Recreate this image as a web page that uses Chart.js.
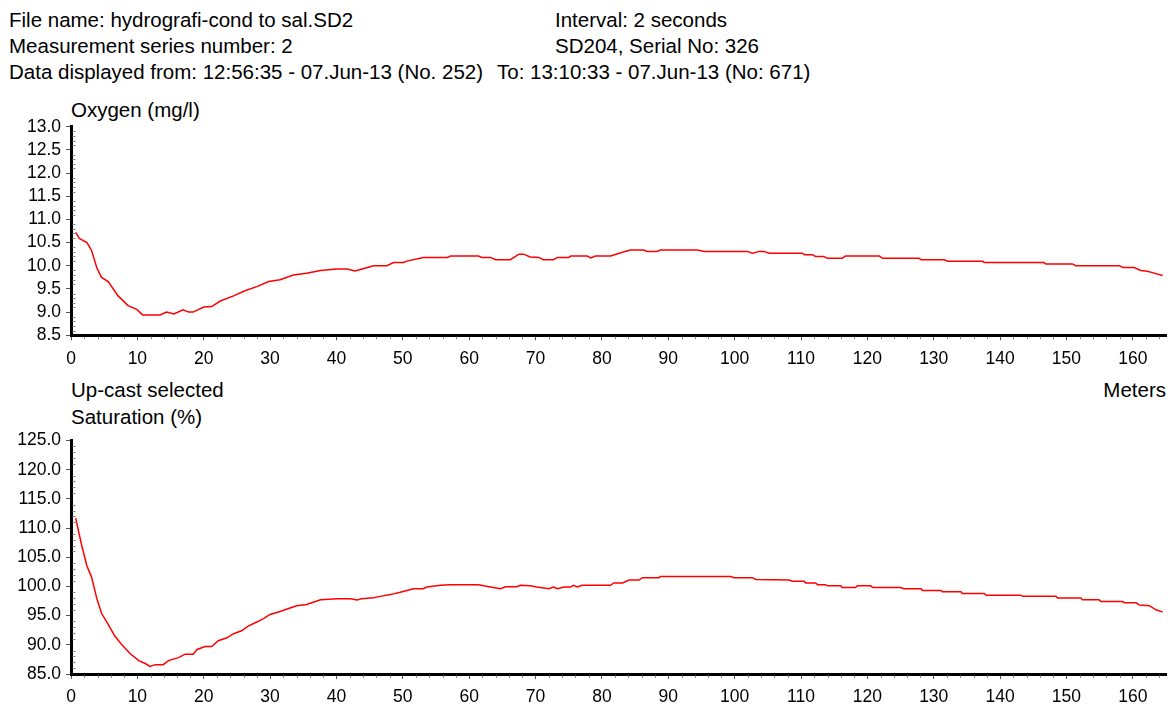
<!DOCTYPE html>
<html>
<head>
<meta charset="utf-8">
<script src="https://cdn.jsdelivr.net/npm/chart.js@4.4.0/dist/chart.umd.min.js"></script>
<style>
  html, body { margin: 0; padding: 0; background: #fff; }
  body { width: 1170px; height: 704px; position: relative; overflow: hidden;
         font-family: "Liberation Sans", Arial, sans-serif; color: #000; }
  .t { position: absolute; font-size: 20.5px; line-height: 26px; white-space: nowrap; }
  canvas { position: absolute; left: 0; }
</style>
</head>
<body>
<div class="t" style="left:9px; top:7px">File name: hydrografi-cond to sal.SD2</div>
<div class="t" style="left:9px; top:33px">Measurement series number: 2</div>
<div class="t" style="left:9px; top:59px">Data displayed from: 12:56:35 - 07.Jun-13 (No. 252)</div>
<div class="t" style="left:555px; top:7px">Interval: 2 seconds</div>
<div class="t" style="left:555px; top:33px">SD204, Serial No: 326</div>
<div class="t" style="left:497px; top:59px">To: 13:10:33 - 07.Jun-13 (No: 671)</div>

<div class="t" style="left:71px; top:97px">Oxygen (mg/l)</div>
<div class="t" style="left:71px; top:377px">Up-cast selected</div>
<div class="t" style="right:4px; top:377px">Meters</div>
<div class="t" style="left:71px; top:404px">Saturation (%)</div>

<canvas id="oxy" width="1170" height="270" style="top:100px"></canvas>
<canvas id="sat" width="1170" height="279" style="top:425px"></canvas>

<script>
// depth (m) / oxygen (mg/l)
const oxyDepth = [0.7, 1.25, 2.4, 3.1, 3.9, 4.6, 5.6, 7.1, 8.6, 9.9, 10.8, 13.4, 14.4, 15.5, 16.9, 17.7, 18.4,
  20.0, 21.2, 22.5, 24.5, 26.2, 28.0, 29.8, 31.5, 33.5, 35.5, 37.6, 40.1, 41.6, 42.8, 43.6, 45.6, 47.6,
  48.6, 50.1, 50.6, 53.1, 56.7, 57.2, 61.4, 61.9, 63.2, 64.0, 66.2, 67.5, 68.2, 69.2, 70.5, 71.2, 72.7,
  73.3, 75.0, 75.3, 77.8, 78.3, 79.0, 81.3, 83.1, 84.3, 86.3, 86.8, 88.3, 88.8, 94.4, 95.4, 101.9, 102.7,
  103.7, 104.4, 105.2, 110.2, 110.5, 111.7, 112.2, 113.4, 114.0, 116.2, 116.7, 121.8, 122.3, 127.8, 128.1,
  131.6, 132.1, 137.4, 137.6, 146.6, 146.9, 150.9, 151.4, 158.0, 158.5, 160.2, 161.2, 162.2, 163.5, 164.5];
const oxyValues = [10.72, 10.59, 10.50, 10.33, 9.95, 9.75, 9.66, 9.35, 9.14, 9.06, 8.94, 8.94, 9.00, 8.96, 9.05, 9.00, 9.00,
  9.11, 9.12, 9.24, 9.35, 9.46, 9.55, 9.66, 9.70, 9.80, 9.84, 9.90, 9.93, 9.93, 9.89, 9.92, 10.00, 10.00,
  10.07, 10.07, 10.10, 10.18, 10.18, 10.21, 10.21, 10.18, 10.18, 10.13, 10.13, 10.25, 10.25, 10.19, 10.18, 10.13, 10.13,
  10.18, 10.18, 10.21, 10.21, 10.17, 10.21, 10.21, 10.29, 10.34, 10.34, 10.31, 10.31, 10.34, 10.34, 10.31, 10.31, 10.27,
  10.31, 10.31, 10.27, 10.27, 10.24, 10.24, 10.20, 10.20, 10.16, 10.16, 10.21, 10.21, 10.16, 10.16, 10.13,
  10.13, 10.10, 10.10, 10.07, 10.07, 10.04, 10.04, 10.00, 10.00, 9.96, 9.96, 9.90, 9.88, 9.83, 9.79];

// depth (m) / saturation (%)
const satDepth = [0.7, 1.6, 2.4, 3.1, 3.9, 4.6, 5.6, 6.6, 7.6, 8.9, 10.2, 11.2, 11.9, 12.7, 13.9, 14.7, 16.2, 17.2,
  18.4, 19.0, 20.2, 21.2, 22.2, 23.5, 24.5, 25.7, 26.7, 28.0, 29.0, 30.0, 31.5, 33.0, 34.0, 35.5, 37.6, 40.1,
  42.1, 43.1, 43.8, 45.6, 46.6, 48.1, 49.6, 51.6, 53.1, 53.6, 55.7, 57.2, 61.4, 62.2, 63.2, 64.7, 65.5, 67.2,
  67.7, 69.2, 70.2, 72.0, 72.7, 73.3, 74.3, 75.3, 75.7, 76.3, 77.0, 81.3, 81.8, 83.1, 84.1, 85.6, 86.1, 88.6,
  88.8, 99.4, 99.9, 102.7, 103.2, 108.2, 108.7, 110.5, 110.7, 112.2, 112.5, 113.7, 114.0, 116.0, 116.2, 118.2,
  118.5, 120.5, 120.8, 125.0, 125.5, 128.1, 128.3, 131.1, 131.3, 134.1, 134.3, 137.6, 137.9, 143.1, 143.4,
  148.4, 148.7, 152.2, 152.4, 154.9, 155.2, 158.5, 158.7, 160.5, 161.0, 162.5, 163.5, 164.5];
const satValues = [111.7, 107.1, 103.5, 101.6, 97.9, 95.4, 93.5, 91.5, 90.1, 88.5, 87.3, 86.8, 86.3, 86.6, 86.6, 87.3, 87.8, 88.4,
  88.4, 89.2, 89.7, 89.7, 90.7, 91.2, 91.9, 92.4, 93.2, 93.9, 94.5, 95.2, 95.7, 96.3, 96.7, 96.9, 97.7, 97.9,
  97.9, 97.7, 97.9, 98.05, 98.3, 98.6, 99.0, 99.6, 99.6, 99.9, 100.2, 100.3, 100.3, 100.1, 99.9, 99.6, 99.95, 99.95,
  100.2, 100.1, 99.9, 99.6, 99.9, 99.6, 99.9, 99.9, 100.2, 99.9, 100.2, 100.2, 100.6, 100.6, 101.1, 101.1, 101.5, 101.5,
  101.7, 101.7, 101.5, 101.5, 101.2, 101.1, 100.9, 100.9, 100.6, 100.6, 100.3, 100.3, 100.1, 100.1, 99.8, 99.8,
  100.1, 100.1, 99.8, 99.8, 99.6, 99.6, 99.3, 99.3, 99.1, 99.1, 98.8, 98.8, 98.5, 98.5, 98.3,
  98.3, 98.0, 98.0, 97.7, 97.7, 97.4, 97.4, 97.2, 97.2, 96.8, 96.7, 96.0, 95.6];

const depthMin = 0, depthMax = 165, depthStep = 10, depthMinor = 2;
const oxyMin = 8.5, oxyMax = 13.0, oxyStep = 0.5, oxyMinor = 0.1;
const satMin = 85, satMax = 125, satStep = 5, satMinor = 1;

const FONT = { family: '"Liberation Sans", Arial, sans-serif', size: 17.5 };

// small ticks between the labelled ones
const minorTicks = {
  id: 'minorTicks',
  afterDraw(chart, args, opts) {
    const { ctx, chartArea: a, scales: { x, y } } = chart;
    ctx.save();
    ctx.strokeStyle = '#8a8a8a';
    ctx.lineWidth = 1;
    ctx.beginPath();
    const nx = Math.round((x.max - x.min) / opts.xStep);
    for (let i = 0; i <= nx; i++) {
      if (i % opts.xEvery === 0) continue;
      const px = Math.round(x.getPixelForValue(x.min + i * opts.xStep)) + 0.5;
      ctx.moveTo(px, a.bottom + 1.5);
      ctx.lineTo(px, a.bottom + 4);
    }
    const ny = Math.round((y.max - y.min) / opts.yStep);
    for (let i = 0; i <= ny; i++) {
      if (i % opts.yEvery === 0) continue;
      const py = Math.round(y.getPixelForValue(y.min + i * opts.yStep)) + 0.5;
      ctx.moveTo(a.left + 1.5, py);
      ctx.lineTo(a.left + 4.5, py);
    }
    ctx.stroke();
    ctx.restore();
  }
};

function makeChart(id, xs, ys, yMin, yMax, yStep, yMinor, padTop, xHeight) {
  return new Chart(document.getElementById(id), {
    type: 'line',
    data: {
      datasets: [{
        data: xs.map((x, i) => ({ x, y: ys[i] })),
        borderColor: '#ff0000',
        borderWidth: 1.5,
        pointRadius: 0,
        tension: 0,
        fill: false,
      }],
    },
    options: {
      responsive: false,
      animation: false,
      devicePixelRatio: 1,
      layout: { padding: { top: padTop, right: 4, left: 0, bottom: 0 } },
      plugins: {
        legend: { display: false },
        tooltip: { enabled: false },
        minorTicks: { xStep: depthMinor, xEvery: depthStep / depthMinor, yStep: yMinor, yEvery: Math.round(yStep / yMinor) },
      },
      scales: {
        x: {
          type: 'linear',
          min: depthMin,
          max: depthMax,
          afterFit: (s) => { s.height = xHeight; },
          ticks: { stepSize: depthStep, includeBounds: false, autoSkip: false, color: '#000', font: FONT,
                   padding: 8, maxRotation: 0, callback: (v) => String(v) },
          grid: { drawOnChartArea: false, drawTicks: true, tickLength: 5, color: '#555', lineWidth: 1 },
          border: { display: true, color: '#000', width: 3 },
        },
        y: {
          type: 'linear',
          min: yMin,
          max: yMax,
          afterFit: (s) => { s.width = 71; },
          ticks: { stepSize: yStep, includeBounds: false, autoSkip: false, color: '#000', font: FONT, padding: 5,
                   callback: (v) => Number(v).toFixed(1) },
          grid: { drawOnChartArea: false, drawTicks: true, tickLength: 5, color: '#555', lineWidth: 1 },
          border: { display: true, color: '#000', width: 3 },
        },
      },
    },
    plugins: [minorTicks],
  });
}

makeChart('oxy', oxyDepth, oxyValues, oxyMin, oxyMax, oxyStep, oxyMinor, 26.7, 34.7);
makeChart('sat', satDepth, satValues, satMin, satMax, satStep, satMinor, 10, 30);
</script>
</body>
</html>
